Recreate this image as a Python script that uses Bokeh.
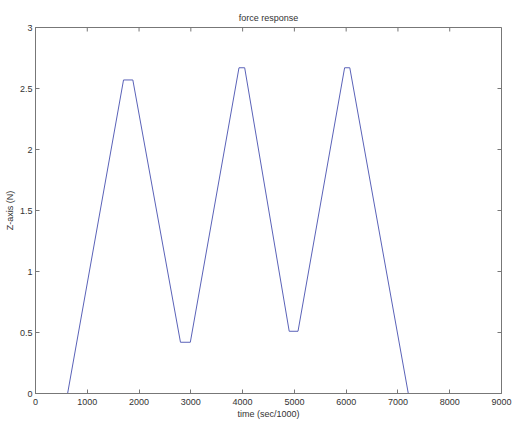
import math
from bokeh.plotting import figure
from bokeh.models import Range1d, FixedTicker
from bokeh.embed import file_html
from bokeh.resources import INLINE

# force response of the Z axis over time
time_ms = [620, 1700, 1880, 2800, 2990, 3930, 4040, 4900, 5070, 5970, 6070, 7200]
force_n = [0.0, 2.57, 2.57, 0.42, 0.42, 2.67, 2.67, 0.51, 0.51, 2.67, 2.67, 0.0]

x_ticks = [0, 1000, 2000, 3000, 4000, 5000, 6000, 7000, 8000, 9000]
y_ticks = [0, 0.5, 1, 1.5, 2, 2.5, 3]
x_max = 9000
y_max = 3

FONT = "Liberation Sans"
TXT = "#333333"
FRAME = "#777777"

p = figure(width=515, height=425, output_backend="svg", toolbar_location=None,
           x_range=Range1d(0, x_max), y_range=Range1d(0, y_max),
           title="force response",
           min_border_left=35, min_border_right=14, min_border_top=27, min_border_bottom=32)

p.title.align = "center"
p.title.text_font = FONT
p.title.text_font_size = "9px"
p.title.text_font_style = "normal"
p.title.text_color = TXT

p.xgrid.visible = False
p.ygrid.visible = False
p.outline_line_color = FRAME
p.outline_line_width = 1

p.line(time_ms, force_n, line_color="#5a62b8", line_width=1)

for ax, ticks in ((p.xaxis[0], x_ticks), (p.yaxis[0], y_ticks)):
    ax.ticker = FixedTicker(ticks=ticks)
    ax.minor_tick_line_color = None
    ax.major_tick_in = 4
    ax.major_tick_out = 0
    ax.axis_line_color = FRAME
    ax.major_tick_line_color = FRAME
    ax.major_label_text_font = FONT
    ax.major_label_text_font_size = "9px"
    ax.major_label_text_color = TXT
    ax.axis_label_text_font = FONT
    ax.axis_label_text_font_size = "9px"
    ax.axis_label_text_font_style = "normal"
    ax.axis_label_text_color = TXT

p.xaxis[0].major_label_standoff = 5
p.xaxis[0].axis_label_standoff = 1
p.yaxis[0].major_label_standoff = 3
p.yaxis[0].axis_label_standoff = 2
p.xaxis[0].axis_label = "time (sec/1000)"
p.yaxis[0].axis_label = "Z-axis (N)"

# inward ticks along the top and right edges of the box
p.ray(x=x_ticks, y=[y_max] * len(x_ticks), length=4, length_units="screen",
      angle=-math.pi / 2, line_color=FRAME, line_width=1)
p.ray(x=[x_max] * len(y_ticks), y=y_ticks, length=4, length_units="screen",
      angle=math.pi, line_color=FRAME, line_width=1)

open("out.html", "w").write(file_html(p, INLINE))
